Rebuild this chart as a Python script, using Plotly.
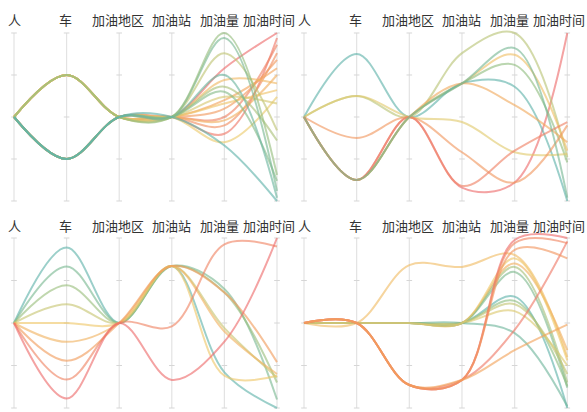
import plotly.graph_objects as go
from plotly.colors import sample_colorscale

# Parallel-coordinate dimensions (left to right)
dimensions = ["人", "车", "加油地区", "加油站", "加油量", "加油时间"]

# Each row is one record: [人, 车, 加油地区, 加油站, 加油量, 加油时间], values normalised to 0..1 per axis.
# Rows are drawn in list order.
panel_a = [
    [0.50, 0.25, 0.50, 0.50, 0.79, 1.00],
    [0.50, 0.75, 0.50, 0.50, 0.40, 0.97],
    [0.50, 0.25, 0.50, 0.50, 0.50, 0.93],
    [0.50, 0.75, 0.50, 0.50, 0.45, 0.88],
    [0.50, 0.25, 0.50, 0.50, 0.55, 0.84],
    [0.50, 0.75, 0.50, 0.50, 0.60, 0.79],
    [0.50, 0.75, 0.50, 0.50, 0.48, 0.75],
    [0.50, 0.75, 0.50, 0.50, 0.72, 0.70],
    [0.50, 0.25, 0.50, 0.50, 0.58, 0.66],
    [0.50, 0.75, 0.50, 0.50, 0.35, 0.62],
    [0.50, 0.75, 0.50, 0.50, 0.62, 0.58],
    [0.50, 0.75, 0.50, 0.50, 0.88, 0.42],
    [0.50, 0.25, 0.50, 0.50, 0.68, 0.36],
    [0.50, 0.25, 0.50, 0.50, 0.65, 0.12],
    [0.50, 0.25, 0.50, 0.50, 0.97, 0.06],
    [0.50, 0.25, 0.50, 0.50, 0.75, 0.02],
    [0.50, 0.75, 0.50, 0.50, 1.00, 0.155],
    [0.50, 0.25, 0.50, 0.50, 0.33, 0.00],
]

panel_b = [
    [0.50, 0.125, 0.50, 0.08, 0.11, 1.00],
    [0.50, 0.625, 0.50, 0.88, 1.00, 0.26],
    [0.50, 0.125, 0.50, 0.70, 0.87, 0.30],
    [0.50, 0.125, 0.50, 0.70, 0.81, 0.23],
    [0.50, 0.875, 0.50, 0.70, 0.68, 0.00],
    [0.50, 0.125, 0.50, 0.70, 0.57, 0.35],
    [0.50, 0.625, 0.50, 0.47, 0.29, 0.28],
    [0.50, 0.375, 0.50, 0.29, 0.11, 0.45],
    [0.50, 0.125, 0.50, 0.09, 0.30, 0.47],
    [0.50, 0.125, 0.50, 0.70, 0.91, 0.02],
]

panel_c = [
    [0.50, 0.944, 0.50, 0.835, 0.21, 0.00],
    [0.50, 0.833, 0.50, 0.835, 0.70, 0.05],
    [0.50, 0.722, 0.50, 0.835, 0.68, 0.15],
    [0.50, 0.611, 0.50, 0.835, 0.47, 0.18],
    [0.50, 0.500, 0.50, 0.835, 0.19, 0.19],
    [0.50, 0.389, 0.50, 0.835, 0.45, 0.20],
    [0.50, 0.278, 0.50, 0.835, 0.68, 0.27],
    [0.50, 0.167, 0.50, 0.480, 0.963, 0.95],
    [0.50, 0.056, 0.50, 0.165, 0.39, 1.00],
]

panel_d = [
    [0.50, 0.50, 0.840, 0.830, 0.90, 0.30],
    [0.50, 0.50, 0.500, 0.500, 0.85, 0.34],
    [0.50, 0.50, 0.500, 0.500, 0.83, 0.15],
    [0.50, 0.50, 0.500, 0.500, 0.80, 0.12],
    [0.50, 0.50, 0.500, 0.500, 0.655, 0.00],
    [0.50, 0.50, 0.500, 0.500, 0.63, 0.13],
    [0.50, 0.50, 0.500, 0.500, 0.61, 0.20],
    [0.50, 0.50, 0.500, 0.500, 0.57, 0.25],
    [0.50, 0.50, 0.500, 0.500, 0.44, 0.01],
    [0.50, 0.50, 0.500, 0.500, 0.88, 0.28],
    [0.50, 0.50, 0.135, 0.165, 0.988, 1.00],
    [0.50, 0.50, 0.135, 0.165, 0.97, 0.97],
    [0.50, 0.50, 0.135, 0.165, 0.46, 0.98],
    [0.50, 0.50, 0.135, 0.165, 0.93, 0.88],
    [0.50, 0.50, 0.135, 0.165, 0.34, 0.49],
]

tick_levels = [0.0, 0.25, 0.5, 0.75, 1.0]

# horizontal nudges of the axis names, in pixels
label_shift = [0, -1, -1, 0, -5, -8]

line_scale = [
    [0.00, "#5fb3aa"],
    [0.22, "#8fbd7f"],
    [0.48, "#efcc6a"],
    [0.72, "#f3a25a"],
    [1.00, "#ee6b6b"],
]

# (rows, x axis, y axis, x domain, y domain, x range, y range, label height)
panels = [
    (panel_a, "x", "y", [0.0, 0.5], [0.5, 1.0], [-0.2662, 5.3136], [-0.0298, 1.1964], 1.0815),
    (panel_b, "x2", "y2", [0.5, 1.0], [0.5, 1.0], [-0.1994, 5.3741], [-0.0298, 1.1964], 1.0815),
    (panel_c, "x3", "y3", [0.0, 0.5], [0.0, 0.5], [-0.2662, 5.3136], [-0.0235, 1.1882], 1.072),
    (panel_d, "x4", "y4", [0.5, 1.0], [0.0, 0.5], [-0.1994, 5.3741], [-0.0235, 1.1882], 1.072),
]

fig = go.Figure()
annotations = []
xs = list(range(len(dimensions)))

for rows, xa, ya, xdom, ydom, xr, yr, label_y in panels:
    # vertical axis lines with small ticks
    for i in xs:
        fig.add_trace(go.Scatter(
            x=[i, i], y=[0, 1], xaxis=xa, yaxis=ya, mode="lines",
            line=dict(color="#e3e3e3", width=1.2), hoverinfo="skip", showlegend=False,
        ))
        fig.add_trace(go.Scatter(
            x=[i] * len(tick_levels), y=tick_levels, xaxis=xa, yaxis=ya, mode="markers",
            marker=dict(symbol="line-ew", size=4, line=dict(color="#d6d6d6", width=1)),
            hoverinfo="skip", showlegend=False,
        ))

    # colour each record by the rank of its 加油时间 value
    order = sorted(range(len(rows)), key=lambda k: rows[k][-1])
    n = len(rows)
    rank_of = {k: r for r, k in enumerate(order)}
    for k, row in enumerate(rows):
        frac = rank_of[k] / (n - 1) if n > 1 else 0.0
        color = sample_colorscale(line_scale, [frac])[0]
        fig.add_trace(go.Scatter(
            x=xs, y=row, xaxis=xa, yaxis=ya, mode="lines",
            line=dict(color=color, width=2, shape="spline", smoothing=1.0),
            opacity=0.62, hoverinfo="skip", showlegend=False,
        ))

    for i, name in enumerate(dimensions):
        annotations.append(dict(
            x=i, y=label_y, xref=xa, yref=ya, text=name, showarrow=False,
            xshift=label_shift[i],
            font=dict(family="Noto Sans CJK SC", size=13, color="#333333"),
            xanchor="center", yanchor="middle",
        ))

    suffix = xa[1:]
    fig.layout["xaxis" + suffix] = dict(domain=xdom, range=xr, visible=False, anchor=ya, fixedrange=True)
    fig.layout["yaxis" + suffix] = dict(domain=ydom, range=yr, visible=False, anchor=xa, fixedrange=True)

fig.update_layout(
    width=587, height=412,
    margin=dict(l=0, r=0, t=0, b=0),
    paper_bgcolor="white", plot_bgcolor="white",
    annotations=annotations,
    showlegend=False,
)

fig.write_html("out.html")
